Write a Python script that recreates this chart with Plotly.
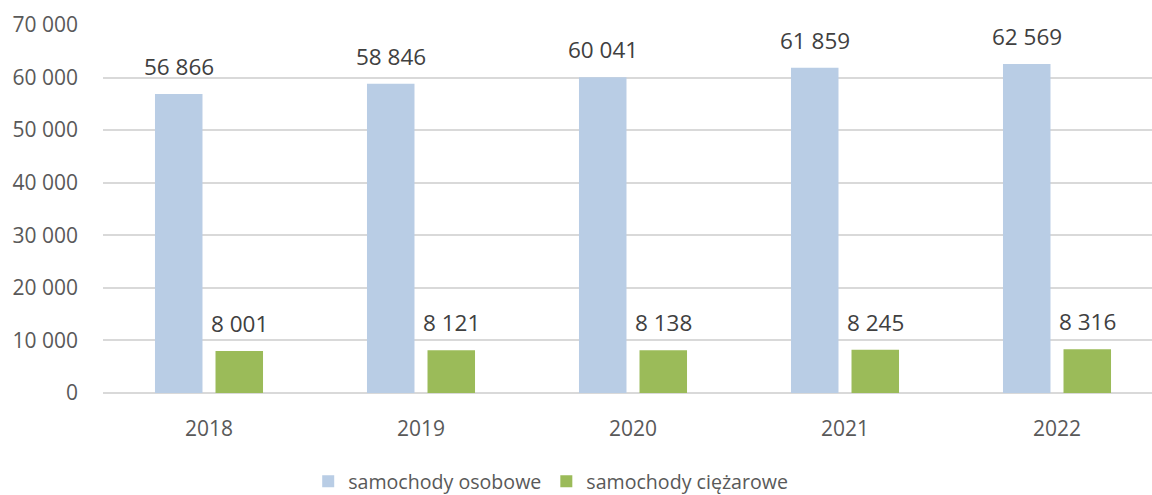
import plotly.graph_objects as go

years = ["2018", "2019", "2020", "2021", "2022"]
osobowe = [56866, 58846, 60041, 61859, 62569]
ciezarowe = [8001, 8121, 8138, 8245, 8316]
series_names = ["samochody osobowe", "samochody ciężarowe"]
y_ticks = [0, 10000, 20000, 30000, 40000, 50000, 60000, 70000]

FONT = "Open Sans"
TXT = "#595959"
LBL = "#404040"

# the reference is cropped on the right, so the plot area runs slightly past
# the window edge; the page body margin is removed and overflow hidden
W, H = 1168, 495
ML, MR, MT, MB = 103, 5, 25, 102
BARGAP, GROUPGAP = 0.429, 0.215

def fmt(v):
    return f"{v:,}".replace(",", " ")

fig = go.Figure()
fig.add_trace(go.Bar(
    x=years, y=osobowe, name=series_names[0],
    marker=dict(color="#B9CDE5", line=dict(width=0)),
))
fig.add_trace(go.Bar(
    x=years, y=ciezarowe, name=series_names[1],
    marker=dict(color="#9BBB59", line=dict(width=0)),
))

# value labels above the bars (x given as category index on the category axis)
plot_w = W - ML - MR
slot = plot_w / len(years) * (1 - BARGAP) / 2
for vals, sgn in ((osobowe, -1), (ciezarowe, 1)):
    for i, v in enumerate(vals):
        fig.add_annotation(x=i, y=v, text=fmt(v), showarrow=False,
                           xshift=sgn * slot / 2, yshift=10, yanchor="bottom",
                           font=dict(family=FONT, size=22.5, color=LBL))

fig.update_layout(
    width=W, height=H,
    margin=dict(l=ML, r=MR, t=MT, b=MB, autoexpand=False),
    paper_bgcolor="white", plot_bgcolor="white",
    separators=", ",
    barmode="group", bargap=BARGAP, bargroupgap=GROUPGAP,
    font=dict(family=FONT, size=20, color=TXT),
    showlegend=True,
    legend=dict(orientation="h", x=0.4715, xref="container", xanchor="center",
                y=0.0275, yref="container", yanchor="middle",
                font=dict(family=FONT, size=19.6, color=TXT), itemwidth=30,
                traceorder="normal"),
)
fig.update_xaxes(type="category", categoryorder="array", categoryarray=years,
                 range=[-0.5, len(years) - 0.5],
                 showgrid=False, showline=False, ticks="",
                 automargin=False, ticklabelstandoff=21,
                 tickfont=dict(family=FONT, size=21, color=TXT))
fig.update_yaxes(range=[0, 70000], tickvals=y_ticks, tickformat=",d",
                 showgrid=True, gridcolor="#D9D9D9", gridwidth=1.5,
                 zeroline=True, zerolinecolor="#D9D9D9", zerolinewidth=1.5,
                 showline=False, ticks="", ticklabelstandoff=24, automargin=False,
                 tickfont=dict(family=FONT, size=21, color=TXT))

fig.write_html(
    "out.html",
    config={"displayModeBar": False},
    post_script="document.body.style.margin='0';document.body.style.overflow='hidden';",
)
